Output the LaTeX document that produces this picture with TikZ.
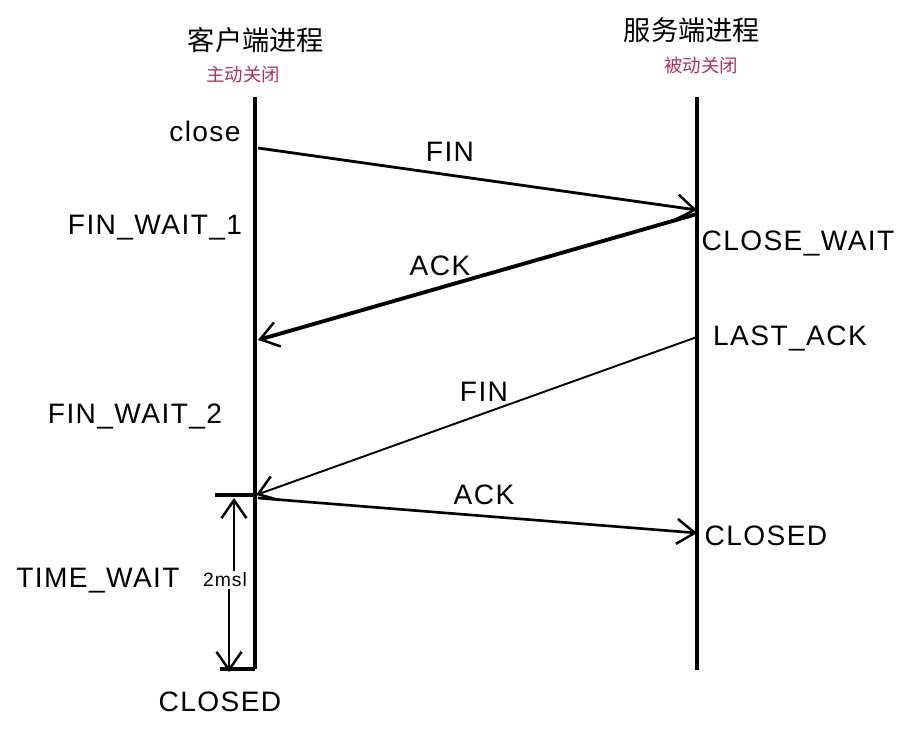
\documentclass[tikz,border=0pt]{standalone}
\usepackage{fontspec}
\setmainfont{Liberation Sans}[LetterSpace=5]
\newfontfamily\cjk{Noto Sans CJK SC}
\usetikzlibrary{arrows.meta}
\definecolor{closecol}{HTML}{B3305E}

\begin{document}
\begin{tikzpicture}[
        x=0.02cm, y=-0.02cm,
        >={Straight Barb[length=3.6mm, width=5mm, line width=1.4pt]},
        every node/.style={font=\fontsize{16}{18}\selectfont, inner sep=1pt},
        title/.style={font=\cjk\fontsize{15.5}{18}\selectfont},
        sub/.style={font=\cjk\fontsize{10.5}{12}\selectfont, text=closecol},
        life/.style={line width=2.4pt},
        msg/.style={->, line width=1.6pt},
        tick/.style={line width=2.4pt}
    ]
    \useasboundingbox (0,0) rectangle (907,730);

    % processes
    \node[title] (cli) at (256,40) {客户端进程};
    \node[sub] (cliact) at (243,75) {主动关闭};
    \node[title] (srv) at (692,30) {服务端进程};
    \node[sub] (srvact) at (701,65) {被动关闭};

    \coordinate (ctop) at (255,97);
    \coordinate (cbot) at (255,669);
    \coordinate (stop) at (697,97);
    \coordinate (sbot) at (697,670);
    \draw[life] (ctop) -- (cbot);
    \draw[life] (stop) -- (sbot);

    % points on the lines
    \coordinate (c1) at (258,148);
    \coordinate (s1) at (697,210);
    \coordinate (s2) at (697,214);
    \coordinate (c2) at (258,340);
    \coordinate (s3) at (697,337);
    \coordinate (c3) at (256,495);
    \coordinate (c4) at (258,498);
    \coordinate (s4) at (697,533);

    % states
    \node (close) at (205,131) {close};
    \node (fw1) at (155,228) {FIN\_WAIT\_1};
    \node (cw) at (798,243) {CLOSE\_WAIT};
    \node (la) at (790,338) {LAST\_ACK};
    \node (fw2) at (135,416) {FIN\_WAIT\_2};
    \node (sclosed) at (766,536) {CLOSED};
    \node (tw) at (98,581) {TIME\_WAIT};
    \node (cclosed) at (220,702) {CLOSED};

    % messages
    \draw[msg] (c1) -- (s1);
    \draw[msg, line width=2.2pt] (s2) -- (c2);
    \draw[msg, line width=1.1pt] (s3) -- (c3);
    \draw[msg, line width=1.5pt] (c4) -- (s4);
    \node (fin1) at (450,152) {FIN};
    \node (ack1) at (440,266) {ACK};
    \node (fin2) at (484,392) {FIN};
    \node (ack2) at (484,495) {ACK};

    % time wait
    \coordinate (t1l) at (215,495);
    \coordinate (t2l) at (220,669);
    \draw[tick] (t1l) -- (c3);
    \draw[tick] (t2l) -- (cbot);
    \node[font=\fontsize{11}{12}\selectfont] (msl) at (225,580) {2msl};
    \coordinate (w1) at (234,498);
    \coordinate (w2) at (229,672);
    \draw[->, line width=1.3pt] (msl.north -| w1) -- (w1);
    \draw[->, line width=1.3pt] (msl.south -| w2) -- (w2);
\end{tikzpicture}
\end{document}
